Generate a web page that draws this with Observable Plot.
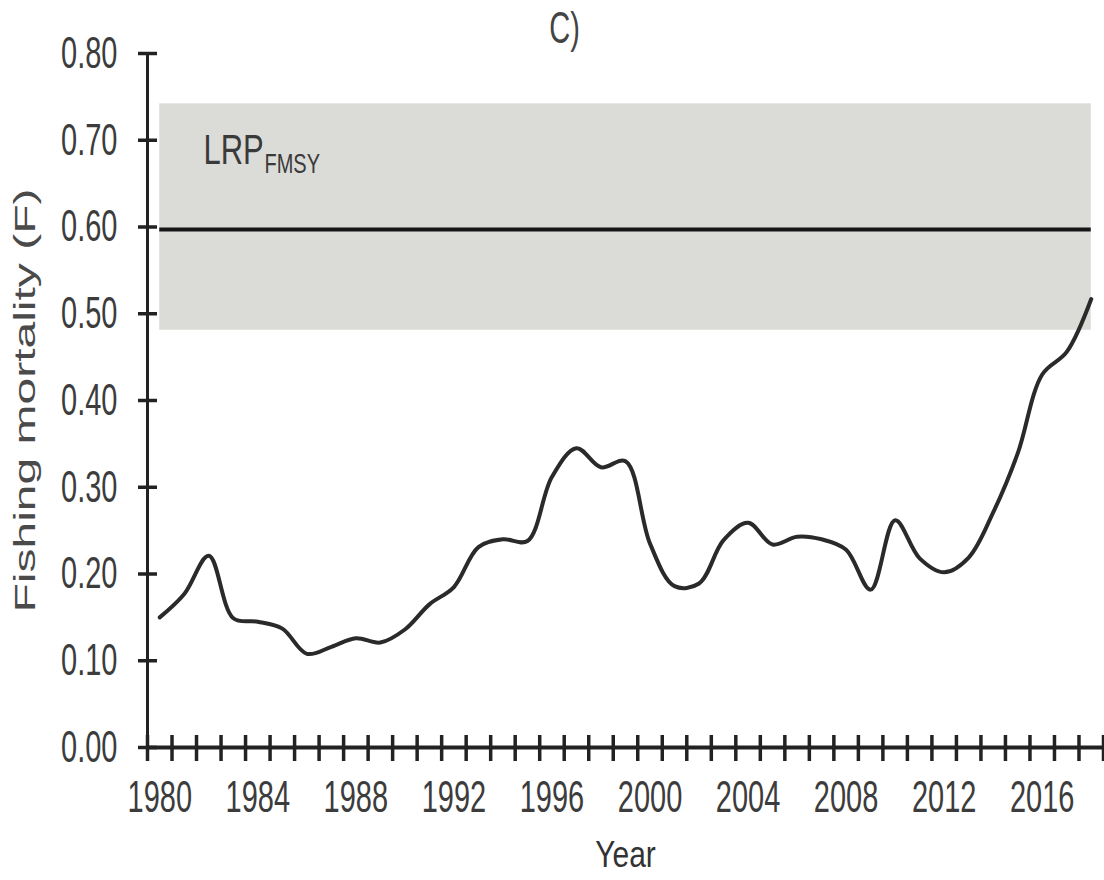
<!DOCTYPE html>
<html>
<head>
<meta charset="utf-8">
<script src="https://cdn.jsdelivr.net/npm/d3@7"></script>
<script src="https://cdn.jsdelivr.net/npm/@observablehq/plot@0.6"></script>
<style>
  html, body { margin: 0; padding: 0; background: #fff; }
  #chart svg { display: block; }
</style>
</head>
<body>
<div id="chart"></div>
<script>
// ---- data ----
const years = [1980,1981,1982,1983,1984,1985,1986,1987,1988,1989,1990,1991,1992,1993,1994,1995,1996,1997,1998,1999,
               2000,2001,2002,2003,2004,2005,2006,2007,2008,2009,2010,2011,2012,2013,2014,2015,2016,2017,2018];
const fishingMortality = [0.150,0.177,0.221,0.149,0.145,0.137,0.108,0.116,0.126,0.121,0.136,0.165,0.185,0.231,0.240,0.238,0.312,0.345,0.323,0.330,
                          0.235,0.186,0.189,0.239,0.259,0.234,0.243,0.240,0.228,0.182,0.262,0.218,0.202,0.219,0.271,0.339,0.430,0.456,0.517];
const lrpValue = 0.597;          // F_MSY limit reference point
const lrpLower = 0.481;          // shaded band lower bound
const lrpUpper = 0.742;          // shaded band upper bound
const yTicks = [0, 0.1, 0.2, 0.3, 0.4, 0.5, 0.6, 0.7, 0.8];
const xLabelYears = [1980,1984,1988,1992,1996,2000,2004,2008,2012,2016];
const xTickBoundaries = d3.range(1979.5, 2019, 1);
const xDomain = [1979.5, 2018.5];
const titleText = "C)";
const yLabel = "Fishing mortality (F)";
const xLabel = "Year";
const lrpMain = "LRP";
const lrpSub = "FMSY";

const series = years.map((y, i) => ({year: y, F: fishingMortality[i]}));
const band = [{x1: years[0], x2: years[years.length - 1], y1: lrpLower, y2: lrpUpper}];

const ink = "#222";
const textInk = "#3c3c3c";

const plot = Plot.plot({
  width: 1104,
  height: 880,
  marginTop: 53,
  marginLeft: 147,
  marginRight: 1,
  marginBottom: 133,
  style: {fontFamily: "Liberation Sans, Arial, sans-serif", fontSize: "29px", background: "#fff", overflow: "visible"},
  x: {domain: xDomain},
  y: {domain: [0, 0.8]},
  marks: [
    Plot.rect(band, {x1: "x1", x2: "x2", y1: "y1", y2: "y2", fill: "#dbdbd7"}),
    Plot.ruleY([lrpValue], {x1: years[0], x2: years[years.length - 1], stroke: "#161616", strokeWidth: 4}),
    Plot.line(series, {x: "year", y: "F", stroke: "#2a2a2a", strokeWidth: 4, curve: "catmull-rom"}),
    // axis lines
    Plot.ruleY([0], {stroke: ink, strokeWidth: 4}),
    Plot.ruleX([xDomain[0]], {stroke: ink, strokeWidth: 3}),
    // cross ticks
    Plot.axisX({ticks: xTickBoundaries, tickSize: 26, dy: -12, tickFormat: () => "", stroke: ink, strokeWidth: 3.5, label: null}),
    Plot.axisY({ticks: yTicks, tickSize: 19, dx: 10, tickFormat: () => "", stroke: ink, strokeWidth: 3.5, label: null}),
    // tick labels
    Plot.axisX({ticks: xLabelYears, tickSize: 0, tickPadding: 33, tickFormat: d3.format("d"), fontSize: 29, fill: textInk, label: null}),
    Plot.axisY({ticks: yTicks, tickSize: 0, tickPadding: 30, tickFormat: d3.format(".2f"), fontSize: 29, fill: textInk, label: null}),
    // axis titles
    Plot.text([yLabel], {frameAnchor: "left", dx: -122, rotate: -90, fontSize: 30, fill: "#4a4a4a", textAnchor: "middle"}),
    Plot.text([xLabel], {frameAnchor: "bottom", dy: 108, fontSize: 30, fill: "#333", lineAnchor: "middle"}),
    // panel title
    Plot.text([titleText], {frameAnchor: "top", dx: -61, dy: -25, fontSize: 29, fill: "#444", lineAnchor: "middle"}),
    // LRP label
    Plot.text([lrpMain], {frameAnchor: "top-left", dx: 56, dy: 97, fontSize: 31, fill: "#3a3a3a", textAnchor: "start", lineAnchor: "middle"}),
    Plot.text([lrpSub], {frameAnchor: "top-left", dx: 117, dy: 111, fontSize: 20, fill: "#3a3a3a", textAnchor: "start", lineAnchor: "middle"})
  ]
});

// stretch the text to match the tall, narrow lettering of the reference
const stretchFor = {
  [yLabel]: "scale(1.6,1)",
  [xLabel]: "scale(1,1.2)",
  [lrpMain]: "scale(1,1.4)",
  [lrpSub]: "scale(1,1.35)"
};
plot.querySelectorAll("text").forEach(t => {
  const content = t.textContent;
  if (!content) return;
  let tr = t.getAttribute("transform") || "";
  if (!/translate/.test(tr)) {
    const x = parseFloat(t.getAttribute("x"));
    const y = parseFloat(t.getAttribute("y"));
    if (!isNaN(x) || !isNaN(y)) {
      const ya = t.getAttribute("y") || "";
      tr = `translate(${isNaN(x) ? 0 : x},${/em$/.test(ya) || isNaN(y) ? 0 : y}) ` + tr;
      t.removeAttribute("x");
      if (!/em$/.test(ya)) t.removeAttribute("y");
    }
  }
  const s = stretchFor[content] || "scale(1,1.55)";
  t.setAttribute("transform", (tr + " " + s).trim());
});

document.getElementById("chart").appendChild(plot);
</script>
</body>
</html>
